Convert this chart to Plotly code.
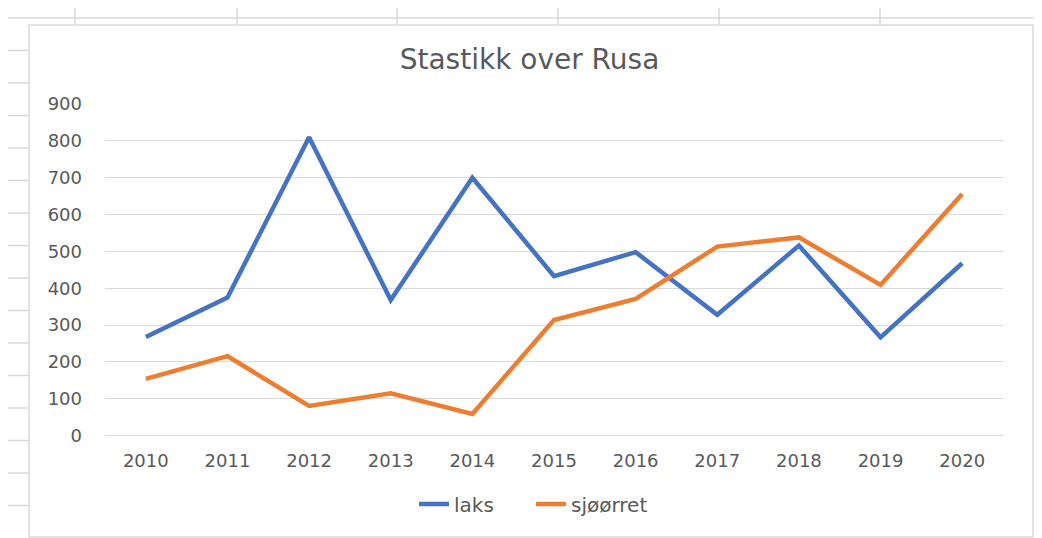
import plotly.graph_objects as go

years = ['2010', '2011', '2012', '2013', '2014', '2015', '2016', '2017', '2018', '2019', '2020']
laks = [268, 375, 810, 368, 700, 433, 498, 328, 516, 267, 468]
sjoorret = [154, 216, 81, 115, 59, 314, 371, 513, 538, 409, 656]
y_ticks = [0, 100, 200, 300, 400, 500, 600, 700, 800, 900]

W, H = 1042, 538
OFF = 8  # page body margin
GREY = '#595959'
FONT = 'DejaVu Sans'


def px_x(x):
    return (x - OFF) / W


def px_y(y):
    return 1 - (y - OFF) / H


fig = go.Figure()
fig.add_trace(go.Scatter(x=years, y=laks, name='laks', mode='lines',
                         line=dict(color='#4472C4', width=4.5)))
fig.add_trace(go.Scatter(x=years, y=sjoorret, name='sjøørret', mode='lines',
                         line=dict(color='#ED7D31', width=4.5)))

# spreadsheet cell lines behind the chart object
shapes = []
cell = dict(type='line', xref='paper', yref='paper', line=dict(color='#D9D9D9', width=1.5), layer='below')
shapes.append(dict(cell, x0=px_x(8), x1=px_x(1042), y0=px_y(18), y1=px_y(18)))
for cx in [75, 237, 397, 558, 719, 880]:
    shapes.append(dict(cell, x0=px_x(cx), x1=px_x(cx), y0=px_y(8), y1=px_y(25)))
shapes.append(dict(cell, x0=px_x(1037), x1=px_x(1037), y0=px_y(8), y1=px_y(538)))
for k in range(1, 16):
    ry = 18 + 32.5 * k
    shapes.append(dict(cell, x0=px_x(8), x1=px_x(29), y0=px_y(ry), y1=px_y(ry)))
    shapes.append(dict(cell, x0=px_x(1033), x1=px_x(1042), y0=px_y(ry), y1=px_y(ry)))
# chart border
shapes.append(dict(type='rect', xref='paper', yref='paper', layer='below',
                   x0=px_x(29), x1=px_x(1033), y0=px_y(25), y1=px_y(537),
                   line=dict(color='#D9D9D9', width=1.5), fillcolor='white'))

fig.update_layout(
    width=W, height=H, autosize=False,
    margin=dict(l=0, r=0, t=0, b=0, autoexpand=False),
    paper_bgcolor='white', plot_bgcolor='rgba(0,0,0,0)',
    title=dict(text='Stastikk over Rusa', x=px_x(529.5), y=px_y(59), xanchor='center', yanchor='middle',
               font=dict(family=FONT, size=28, color=GREY)),
    font=dict(family=FONT, size=18, color=GREY),
    xaxis=dict(domain=[px_x(105), px_x(1003)], type='category', range=[-0.5, 10.5], automargin=False,
               showgrid=False, showline=False, zeroline=False, ticks='',
               ticklabelstandoff=12, tickfont=dict(size=18, color=GREY)),
    yaxis=dict(domain=[px_y(435.7), px_y(104)], range=[0, 900], tickvals=y_ticks, automargin=False,
               showgrid=True, gridcolor='#D9D9D9', gridwidth=1.3, zeroline=True, zerolinecolor='#D9D9D9',
               zerolinewidth=1.3, showline=False, ticks='', ticklabelstandoff=22,
               tickfont=dict(size=18, color=GREY)),
    legend=dict(orientation='h', x=px_x(531), y=px_y(504), xanchor='center', yanchor='middle',
                entrywidth=72, entrywidthmode='pixels',
                font=dict(family=FONT, size=20, color=GREY), bgcolor='rgba(0,0,0,0)'),
    shapes=shapes,
    hovermode=False,
)

fig.write_html("out.html")
